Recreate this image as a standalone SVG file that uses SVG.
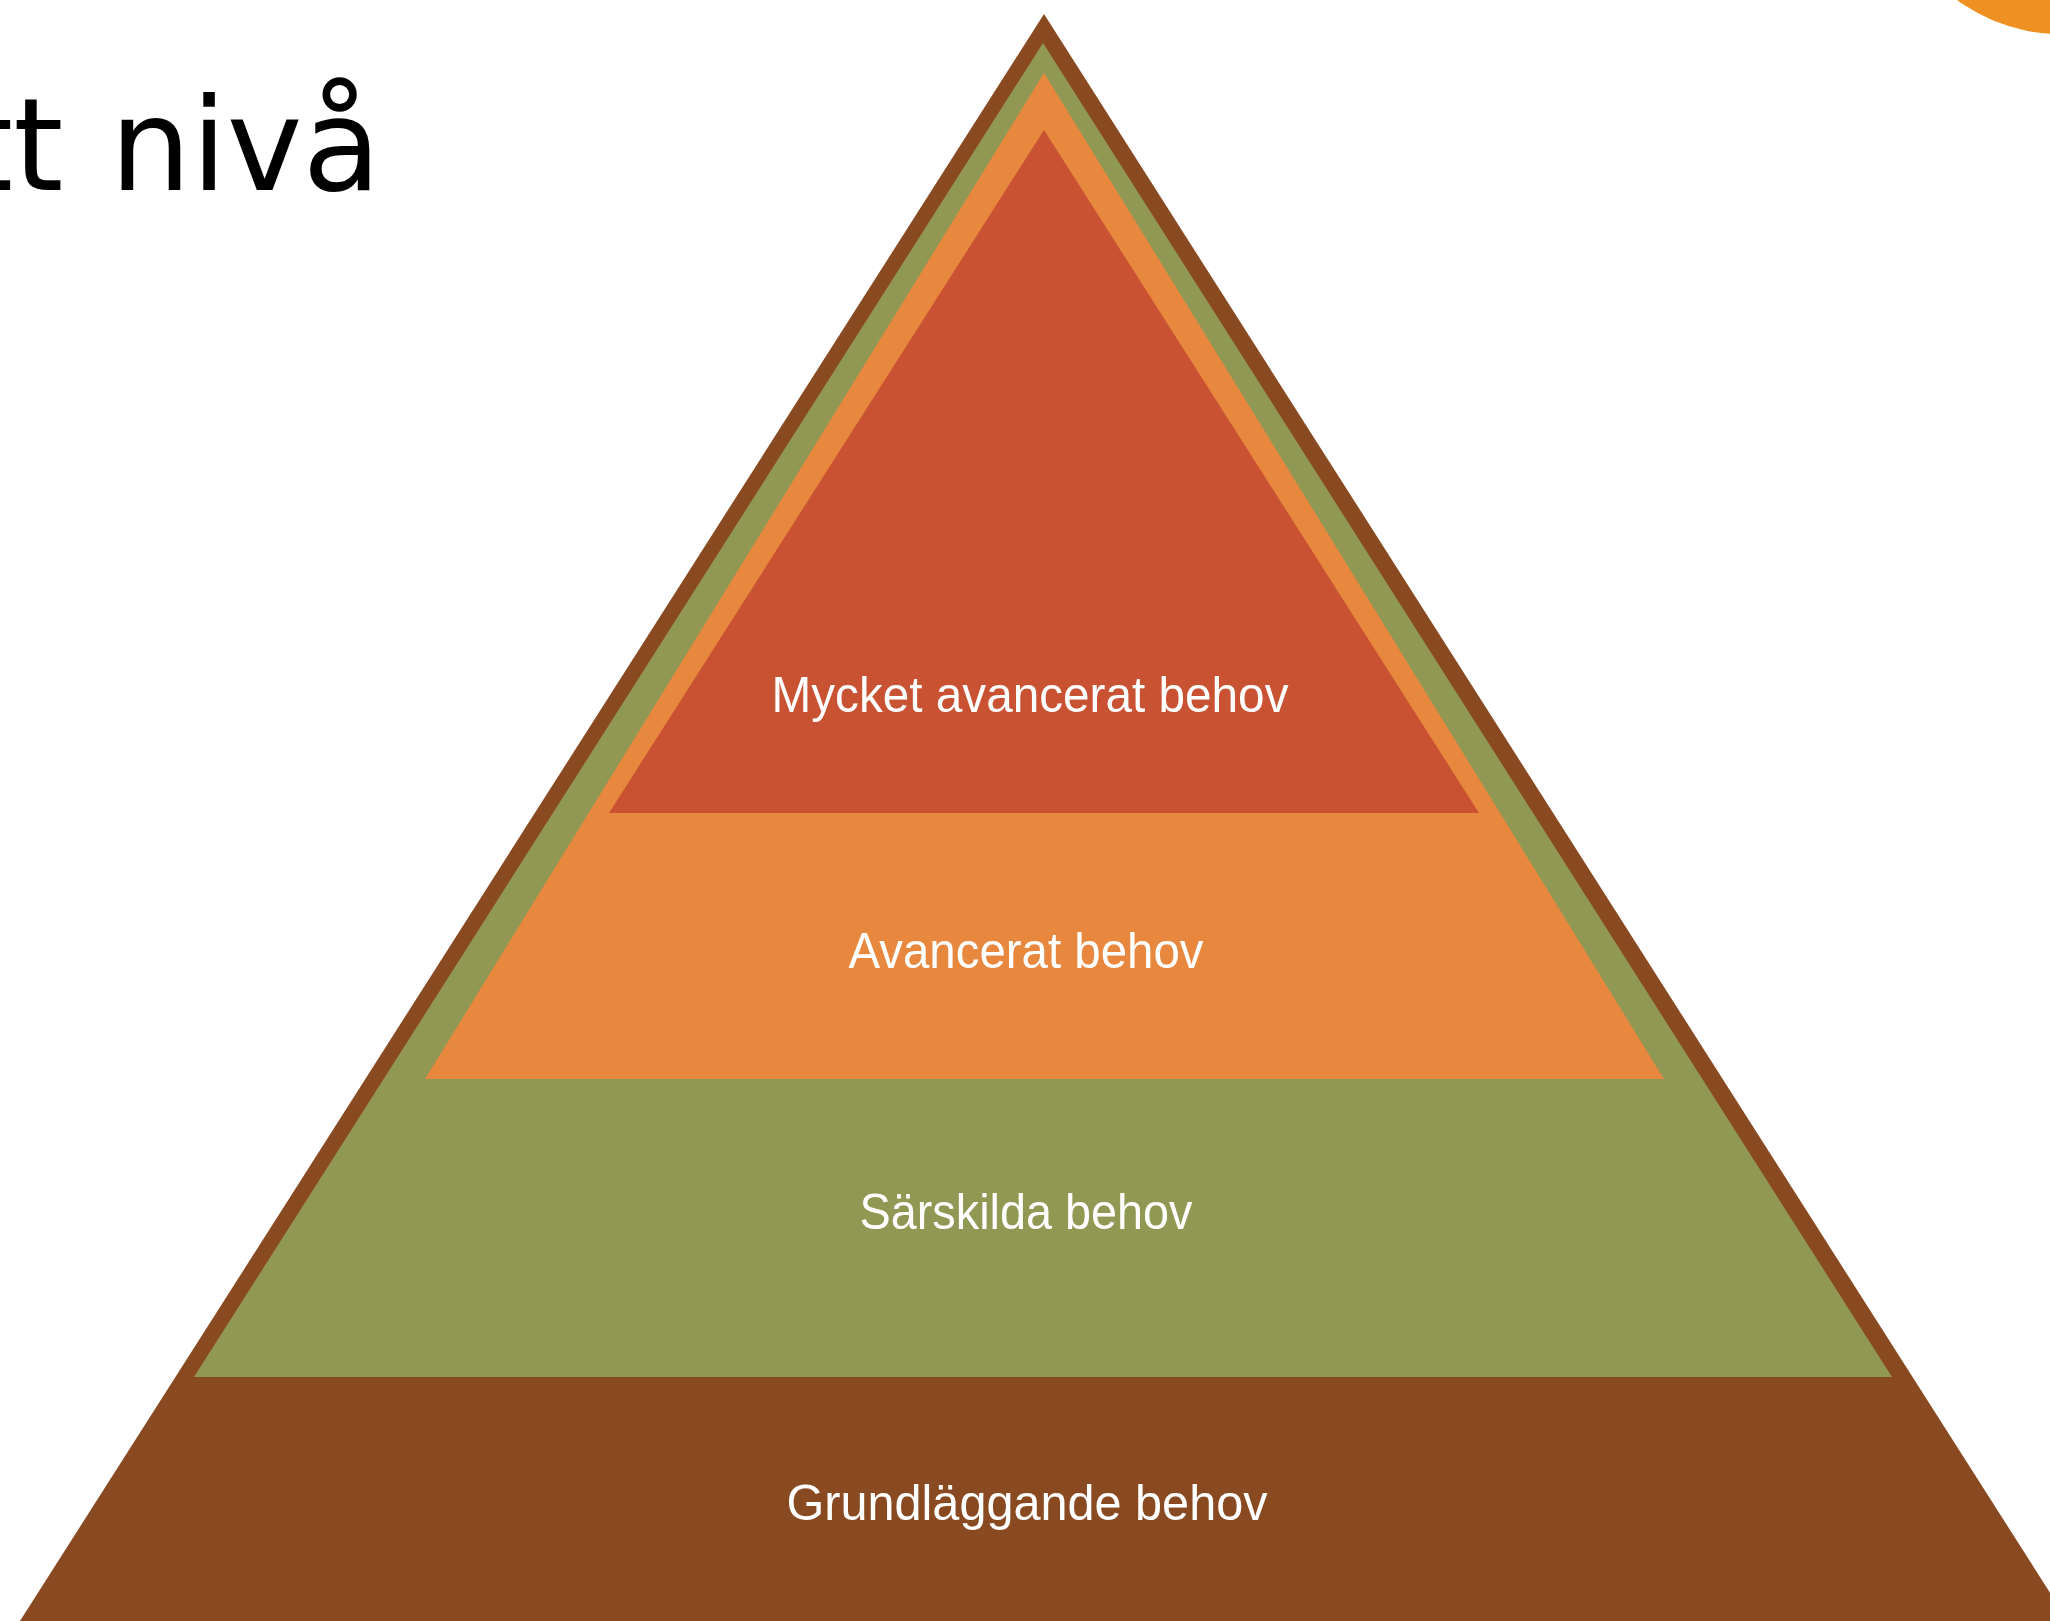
<svg xmlns="http://www.w3.org/2000/svg" width="2050" height="1621" viewBox="0 0 2050 1621">
<style>
.lbl{font-family:"Liberation Sans","Open Sans",Arial,sans-serif;font-size:50px;fill:#ffffff;text-anchor:middle}
.title{font-family:"DejaVu Sans","Liberation Sans",sans-serif;font-size:128px;fill:#000000}
</style>
<rect x="0" y="0" width="2050" height="1621" fill="#ffffff"/>
<circle id="corner-circle" cx="2060" cy="-139" r="173" fill="#EE9122"/>
<text class="title" x="-37" y="190">tt<tspan dx="6"> nivå</tspan></text>
<g id="level-grundlaggande">
<polygon points="1044,14 -10,1668 2098,1668" fill="#8A4A21"/>
<text class="lbl" x="1027" y="1520" textLength="481" lengthAdjust="spacingAndGlyphs">Grundläggande behov</text>
</g>
<g id="level-sarskilda">
<polygon points="1043,43 194,1377 1892,1377" fill="#919853"/>
<text class="lbl" x="1026" y="1229" textLength="333" lengthAdjust="spacingAndGlyphs">Särskilda behov</text>
</g>
<g id="level-avancerat">
<polygon points="1044,73 425,1079 1664,1079" fill="#E8873E"/>
<text class="lbl" x="1026" y="968" textLength="355" lengthAdjust="spacingAndGlyphs">Avancerat behov</text>
</g>
<g id="level-mycket-avancerat">
<polygon points="1044,130 609,813 1479,813" fill="#C85231"/>
<text class="lbl" x="1030" y="712" textLength="517" lengthAdjust="spacingAndGlyphs">Mycket avancerat behov</text>
</g>
</svg>
